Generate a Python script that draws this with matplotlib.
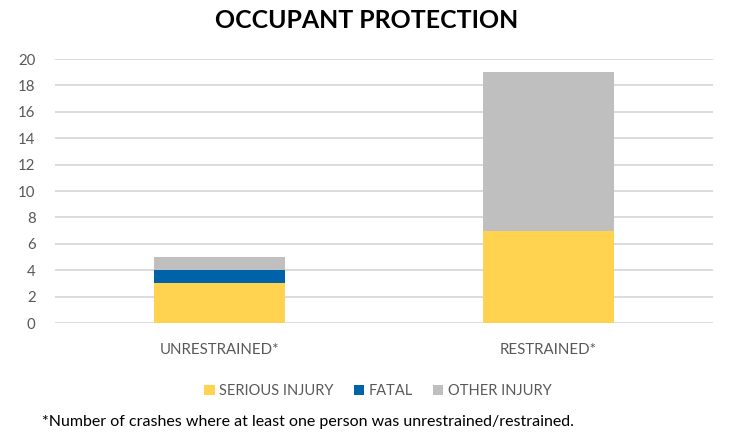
import numpy as np
import matplotlib.pyplot as plt

plt.rcParams['font.family'] = ['Lato', 'DejaVu Sans']

categories = ["UNRESTRAINED*", "RESTRAINED*"]
serious = [3, 7]
fatal = [1, 0]
other = [1, 12]

fig = plt.figure(figsize=(7.34, 4.36), dpi=100)
ax = fig.add_axes([0.075, 0.259, 0.896, 0.6055])

x = np.arange(len(categories))
w = 0.4
b1 = np.array(serious)
b2 = b1 + np.array(fatal)
ax.bar(x, serious, w, color="#FFD34F", label="SERIOUS INJURY", zorder=3)
ax.bar(x, fatal, w, bottom=b1, color="#0063AA", label="FATAL", zorder=3)
ax.bar(x, other, w, bottom=b2, color="#BFBFBF", label="OTHER INJURY", zorder=3)

ax.set_xlim(-0.5, 1.5)
ax.set_ylim(0, 20)
ax.set_yticks(range(0, 21, 2))
ax.set_xticks(x)
ax.set_xticklabels(categories)
ax.grid(axis="y", color="#D9D9D9", linewidth=1.3, zorder=0)
for s in ax.spines.values():
    s.set_visible(False)
ax.tick_params(length=0, labelsize=10.8, labelcolor="#595959")
ax.tick_params(axis="x", pad=14)
ax.tick_params(axis="y", pad=14)

fig.text(0.5, 0.953, "OCCUPANT PROTECTION", ha="center", va="center",
         fontsize=17.9, fontweight="bold", color="black")

ax.legend(loc="center", ncol=3, frameon=False, fontsize=10.5,
          handlelength=0.7, handleheight=0.7,
          columnspacing=1.4, handletextpad=0.3, labelcolor="#595959")
leg = ax.get_legend()
leg.set_bbox_to_anchor((0.515, 1 - 391 / 436), transform=fig.transFigure)

fig.text(42 / 734, 1 - 422 / 436,
         "*Number of crashes where at least one person was unrestrained/restrained.",
         ha="left", va="center", fontsize=11.5, color="black")

fig.savefig("out.png", dpi=100)
